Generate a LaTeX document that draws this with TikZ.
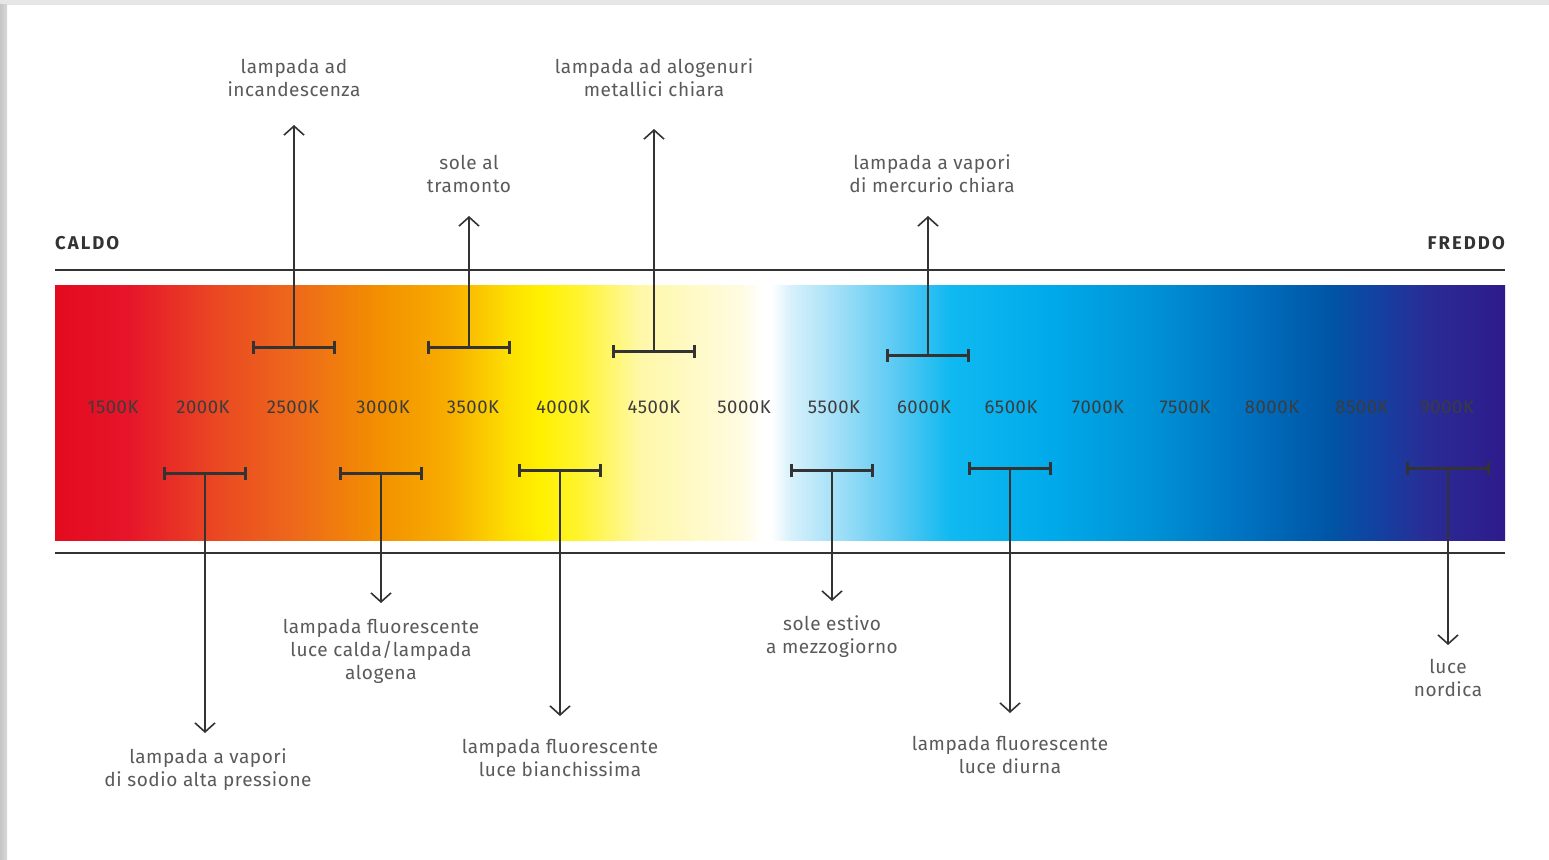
\documentclass[tikz,border=0pt]{standalone}
\usepackage{fontspec}
\setmainfont{Fira Sans}
\newfontfamily\lblfont[LetterSpace=3]{Fira Sans}
\newfontfamily\headfont[LetterSpace=11]{Fira Sans}
\usetikzlibrary{arrows.meta}
\definecolor{c01}{HTML}{E40A1E}
\definecolor{c02}{HTML}{E6162A}
\definecolor{c03}{HTML}{EA4A22}
\definecolor{c04}{HTML}{EE6B1A}
\definecolor{c05}{HTML}{F39000}
\definecolor{c06}{HTML}{F8AE00}
\definecolor{c07}{HTML}{FDE000}
\definecolor{c08}{HTML}{FFF000}
\definecolor{c09}{HTML}{FFF430}
\definecolor{c10}{HTML}{FFF8A8}
\definecolor{c11}{HTML}{FFFBE0}
\definecolor{c12}{HTML}{FFFFFF}
\definecolor{c13}{HTML}{D6F0FB}
\definecolor{c14}{HTML}{9ADDF7}
\definecolor{c15}{HTML}{55C8F3}
\definecolor{c16}{HTML}{10B9F0}
\definecolor{c17}{HTML}{00AAEA}
\definecolor{c18}{HTML}{0092D6}
\definecolor{c19}{HTML}{0070BF}
\definecolor{c20}{HTML}{0055A5}
\definecolor{c21}{HTML}{1440A0}
\definecolor{c22}{HTML}{2A2B95}
\definecolor{c23}{HTML}{2E1A8C}
\definecolor{ink}{HTML}{333333}
\definecolor{labelgray}{HTML}{5A5A5A}
\definecolor{tempgray}{HTML}{3C3C3C}
\definecolor{framegray}{HTML}{E6E6E6}
\pgfdeclarehorizontalshading{spectrum}{100bp}{%
color(0bp)=(c01); color(25bp)=(c01); color(27.586bp)=(c02); color(30.690bp)=(c03);
color(33.448bp)=(c04); color(36.207bp)=(c05); color(38.621bp)=(c06); color(40.690bp)=(c07);
color(41.724bp)=(c08); color(43.103bp)=(c09); color(45.172bp)=(c10); color(48.6bp)=(c11);
color(49.4bp)=(c12); color(49.7bp)=(c12); color(50.4bp)=(c13); color(52.2bp)=(c14);
color(54.138bp)=(c15); color(55.862bp)=(c16); color(59.310bp)=(c17); color(62.759bp)=(c18);
color(66.207bp)=(c19); color(68.966bp)=(c20); color(70.690bp)=(c21); color(72.414bp)=(c22);
color(75bp)=(c23); color(100bp)=(c23)}
\tikzset{
  lbl/.style={align=center, text=labelgray, font=\lblfont\fontsize{19}{23}\selectfont, inner sep=0pt},
  temp/.style={text=tempgray, font=\lblfont\fontsize{18.5}{22}\selectfont, inner sep=0pt},
  heading/.style={text=ink, font=\headfont\fontsize{18.5}{22}\selectfont\bfseries, inner sep=0pt},
  bracket/.style={draw=ink, line width=3pt, {Bar[width=13pt,line width=3pt]}-{Bar[width=13pt,line width=3pt]}},
  stem/.style={draw=ink, line width=1.6pt, -{Straight Barb[length=9pt,width=20pt,line width=1.6pt]}},
  rule/.style={draw=ink, line width=1.3pt}
}
\begin{document}
\begin{tikzpicture}[x=1pt,y=-1pt]
\useasboundingbox (0,0) rectangle (1549,859);
% frame
\fill[framegray] (0,0) rectangle (1549,859);
\fill[white] (7,5) rectangle (1549,859);
\shade[left color=gray!45, right color=gray!30] (0,5) rectangle (7,859);
% spectrum bar
\shade[shading=spectrum] (55,285) rectangle (1505,540);
\draw[rule] (55,270) -- (1505,270);
\draw[rule] (55,553) -- (1505,553);
\node[heading, anchor=west] (caldo) at (55,243) {CALDO};
\node[heading, anchor=east] (freddo) at (1505,243) {FREDDO};
% temperatures
\foreach \t/\x [count=\i] in {1500/113,2000/203,2500/293,3000/383,3500/473,4000/563,4500/654,5000/744,5500/834,6000/924,6500/1011,7000/1098,7500/1185,8000/1272,8500/1362,9000/1447}
  \node[temp] (t\i) at (\x,407) {\t K};
% brackets: name/left/right/y
\foreach \n/\l/\r/\y in {b1/252/336/347, b2/427/511/347, b3/612/696/351, b4/886/970/355,
  b5/163/247/473, b6/339/423/473, b7/518/602/470, b8/790/874/470, b9/968/1052/468, b10/1406/1490/468}{
  \coordinate (\n l) at (\l,\y);
  \coordinate (\n r) at (\r,\y);
  \coordinate (\n) at ({(\l+\r)/2},\y);
  \draw[bracket] (\n l) -- (\n r);
}
% arrow tips
\coordinate (a1) at (294,125);
\coordinate (a2) at (469,216);
\coordinate (a3) at (654,129);
\coordinate (a4) at (928,216);
\coordinate (a5) at (205,733);
\coordinate (a6) at (381,603);
\coordinate (a7) at (560,716);
\coordinate (a8) at (832,601);
\coordinate (a9) at (1010,713);
\coordinate (a10) at (1448,645);
\foreach \i in {1,...,10} \draw[stem] (b\i) -- (b\i |- a\i);
% labels
\node[lbl] (l1) at (294,78) {lampada ad\\incandescenza};
\node[lbl] (l2) at (469,173.5) {sole al\\tramonto};
\node[lbl] (l3) at (654,78) {lampada ad alogenuri\\metallici chiara};
\node[lbl] (l4) at (932,173.5) {lampada a vapori\\di mercurio chiara};
\node[lbl] (l5) at (208,769.5) {lampada a vapori\\di sodio alta pressione};
\node[lbl] (l6) at (381,651) {lampada fluorescente\\luce calda/lampada\\alogena};
\node[lbl] (l7) at (560,757.5) {lampada fluorescente\\luce bianchissima};
\node[lbl] (l8) at (832,636.5) {sole estivo\\a mezzogiorno};
\node[lbl] (l9) at (1010,754.5) {lampada fluorescente\\luce diurna};
\node[lbl] (l10) at (1448,677.5) {luce\\nordica};
\end{tikzpicture}
\end{document}
